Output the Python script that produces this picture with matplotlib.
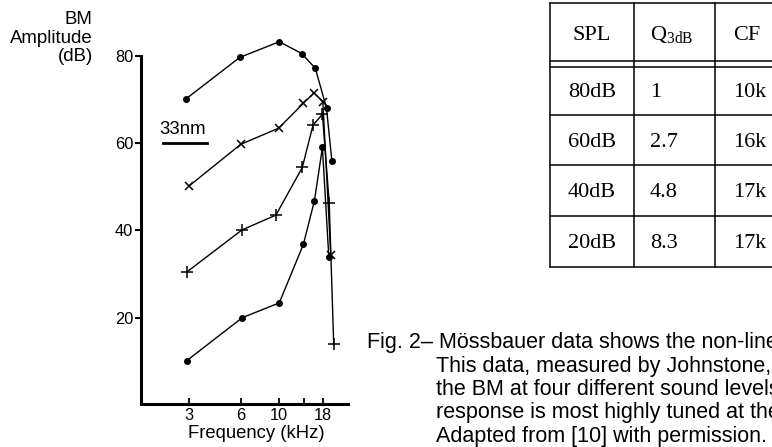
import matplotlib.pyplot as plt

plt.rcParams["font.family"] = ["Liberation Sans", "DejaVu Sans"]
plt.rcParams["mathtext.fontset"] = "custom"
plt.rcParams["mathtext.rm"] = "Liberation Serif"

# BM amplitude (dB) vs stimulus frequency (kHz), one curve per SPL
f_80 = [2.87, 5.89, 10.0, 13.5, 16.2, 18.8, 20.2]
a_80 = [70.1, 79.6, 83.2, 80.5, 77.1, 68.0, 55.9]
f_60 = [3.0, 5.97, 9.91, 13.8, 15.9, 17.9, 19.9]
a_60 = [50.2, 59.7, 63.4, 69.1, 71.5, 69.5, 34.4]
f_40 = [2.91, 6.07, 9.56, 13.6, 15.7, 17.8, 19.5, 20.7]
a_40 = [30.5, 40.1, 43.5, 54.4, 64.1, 66.6, 46.2, 13.9]
f_20 = [2.91, 6.09, 10.0, 13.8, 16.0, 17.8, 19.4]
a_20 = [10.2, 20.0, 23.4, 36.8, 46.8, 59.0, 33.8]

xticks = [3, 6, 10, 14, 18]
xticklabels = ["3", "6", "10", "", "18"]
yticks = [20, 40, 60, 80]

# 33nm scale bar
bar_x = [2.1, 3.8]
bar_y = 60

# table
spl = ["80dB", "60dB", "40dB", "20dB"]
q_3db = ["1", "2.7", "4.8", "8.3"]
cf = ["10k", "16k", "17k", "17k"]

caption = [
    "Fig. 2\u2013 M\u00f6ssbauer data shows the non-line",
    "This data, measured by Johnstone,",
    "the BM at four different sound levels",
    "response is most highly tuned at the",
    "Adapted from [10] with permission.",
]

fig = plt.figure(figsize=(7.72, 4.47), dpi=100)

# overlay in pixel coords for table + caption
ov = fig.add_axes([0, 0, 1, 1])
ov.set_xlim(0, 772)
ov.set_ylim(447, 0)
ov.axis("off")

ax = fig.add_axes([141 / 772, 1 - 403.5 / 447, 207 / 772, 347.8 / 447])
ax.set_xscale("log")
kw = dict(color="black", lw=1.0, clip_on=False)
ax.plot(f_80, a_80, marker="o", ms=4, **kw)
ax.plot(f_60, a_60, marker="x", ms=6, mew=1.1, **kw)
ax.plot(f_40, a_40, marker="+", ms=8, mew=1.1, **kw)
ax.plot(f_20, a_20, marker="o", ms=4, **kw)

ax.plot(bar_x, [bar_y, bar_y], color="black", lw=2, clip_on=False)
ax.text(sum(bar_x) / 2 * 0.93, bar_y + 1.2, "33nm", ha="center", va="bottom", fontsize=13.4)

ax.set_xlim(1.574, 25.06)
ax.set_ylim(0.36, 80)
ax.set_xticks(xticks)
ax.set_xticklabels(xticklabels)
ax.minorticks_off()
ax.set_yticks(yticks)
ax.tick_params(axis="x", direction="in", length=4.3, width=1.3, labelsize=11.8, pad=3.5)
ax.tick_params(axis="y", direction="out", length=4.5, width=1.5, labelsize=11.8, pad=1.2)
for s in ["top", "right"]:
    ax.spines[s].set_visible(False)
for s in ["left", "bottom"]:
    ax.spines[s].set_linewidth(2.2)
ax.patch.set_alpha(0)

ov.text(256.7, 438.3, "Frequency (kHz)", ha="center", va="baseline", fontsize=13.3)
ov.text(92.7, 11.0, "BM\nAmplitude\n(dB)", ha="right", va="top", fontsize=13.4,
        multialignment="right", linespacing=1.12)

# table lines
col_x = [550.3, 634.3, 714.7, 800]
row_y = [2.7, 60.7, 66.7, 115, 165, 216, 266.7]
for y in row_y:
    ov.plot([col_x[0], col_x[-1]], [y, y], color="black", lw=1.1)
for x in col_x[:-1]:
    ov.plot([x, x], [row_y[0], row_y[-1]], color="black", lw=1.1)

serif = dict(family="Liberation Serif", fontsize=16, va="baseline")
ov.text(592, 40, "SPL", ha="center", **serif)
ov.text(650, 40, r"Q$_{\mathrm{3dB}}$", ha="left", **serif)
ov.text(732.7, 40, "CF", ha="left", **serif)
base = [96.7, 146.7, 196.7, 248.3]
for i in range(len(spl)):
    ov.text(591.7, base[i], spl[i], ha="center", **serif)
    ov.text(650, base[i], q_3db[i], ha="left", **serif)
    ov.text(732.7, base[i], cf[i], ha="left", **serif)

cap_base = [348.3, 372.3, 395, 418.3, 441.7]
for i, line in enumerate(caption):
    ov.text(367.3 if i == 0 else 436, cap_base[i], line, ha="left", va="baseline", fontsize=15.5)

fig.savefig("out.png", dpi=100)
plt.close(fig)
